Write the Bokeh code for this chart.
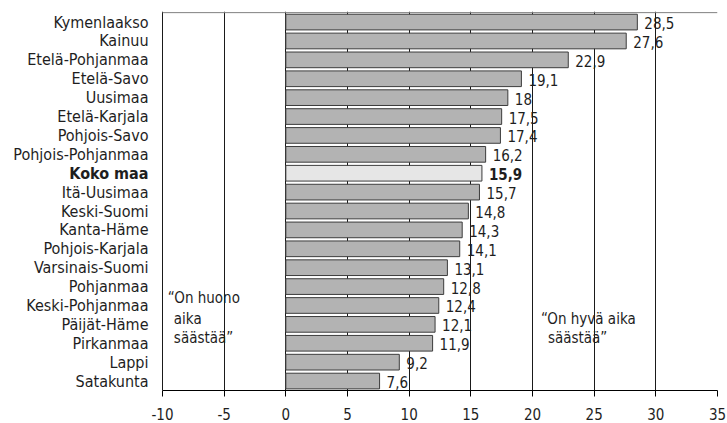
from bokeh.plotting import figure
from bokeh.models import ColumnDataSource, Range1d, FixedTicker, Label
from bokeh.embed import file_html
from bokeh.resources import INLINE
from bokeh.core.properties import value

regions = ["Kymenlaakso", "Kainuu", "Etelä-Pohjanmaa", "Etelä-Savo", "Uusimaa",
           "Etelä-Karjala", "Pohjois-Savo", "Pohjois-Pohjanmaa", "Koko maa",
           "Itä-Uusimaa", "Keski-Suomi", "Kanta-Häme", "Pohjois-Karjala",
           "Varsinais-Suomi", "Pohjanmaa", "Keski-Pohjanmaa", "Päijät-Häme",
           "Pirkanmaa", "Lappi", "Satakunta"]
values = [28.5, 27.6, 22.9, 19.1, 18, 17.5, 17.4, 16.2, 15.9, 15.7, 14.8, 14.3,
          14.1, 13.1, 12.8, 12.4, 12.1, 11.9, 9.2, 7.6]
highlight = "Koko maa"
x_ticks = [-10, -5, 0, 5, 10, 15, 20, 25, 30, 35]
x_tick_labels = ["-10", "-5", "0", "5", "10", "15", "20", "25", "30", "35"]
note_bad = ["\u201cOn huono", "aika", "säästää\u201d"]
note_good = ["\u201cOn hyvä aika", "säästää\u201d"]

FONT = "DejaVu Sans Condensed"
TXT = "#1e1e1e"

n = len(regions)
ypos = [n - 1 - i for i in range(n)]
labels = [f"{v:g}".replace(".", ",") for v in values]
colors = ["#e6e6e6" if r == highlight else "#b3b3b3" for r in regions]
styles = ["bold" if r == highlight else "normal" for r in regions]
xmin, xmax = x_ticks[0], x_ticks[-1]

src = ColumnDataSource(dict(y=ypos, v=values, lab=labels, name=regions,
                            color=colors, style=styles, x0=[xmin] * n))

# frame spans the label area too; the chart box runs from -10 to 35
W, H = 727, 423
left_px, right_px = 162, 717
scale = (right_px - left_px) / (xmax - xmin)
x_start = xmin - left_px / scale

p = figure(width=W, height=H, x_range=Range1d(x_start, xmax), y_range=Range1d(-0.5, n - 0.5 + 0.06),
           output_backend="svg", toolbar_location=None,
           min_border_left=0, min_border_right=W - right_px, min_border_top=11, min_border_bottom=33)
p.outline_line_color = None
p.background_fill_color = "white"
p.yaxis.visible = False

p.hbar(y="y", left=0, right="v", height=0.83, fill_color="color",
       line_color="#3c3c3c", line_width=1, source=src)
p.text(x="v", y="y", text="lab", x_offset=7, y_offset=1, text_baseline="middle",
       text_align="left", text_font=value(FONT), text_font_size="15px",
       text_font_style="style", text_color=TXT, source=src)
p.text(x="x0", y="y", text="name", x_offset=-14, y_offset=0, text_baseline="middle",
       text_align="right", text_font=value(FONT), text_font_size="16px",
       text_font_style="style", text_color=TXT, source=src)

# top border of the chart box
p.segment(x0=xmin, y0=n - 0.5, x1=xmax, y1=n - 0.5, line_color="#808080", line_width=1)

p.xaxis.ticker = FixedTicker(ticks=x_ticks)
p.xaxis.bounds = (xmin, xmax)
p.xaxis.major_label_overrides = {t: s for t, s in zip(x_ticks, x_tick_labels)}
p.xaxis.major_label_text_font = FONT
p.xaxis.major_label_text_font_size = "15px"
p.xaxis.major_label_text_color = TXT
p.xaxis.major_tick_in = 0
p.xaxis.major_tick_out = 6
p.xaxis.minor_tick_in = 0
p.xaxis.minor_tick_out = 0
p.xaxis.major_label_standoff = 11
p.xaxis.axis_line_color = "black"
p.xaxis.major_tick_line_color = "black"

p.xgrid.ticker = FixedTicker(ticks=x_ticks)
p.xgrid.grid_line_color = "#1a1a1a"
p.ygrid.grid_line_color = None

for txt, xx, yy in zip(note_bad, [-9.57, -9.08, -9.08], [4.37, 3.31, 2.30]):
    p.add_layout(Label(x=xx, y=yy, text=txt, text_align="left", text_baseline="middle",
                       text_font=FONT, text_font_size="15px", text_color=TXT))
for txt, xx, yy in zip(note_good, [20.68, 21.25], [3.31, 2.30]):
    p.add_layout(Label(x=xx, y=yy, text=txt, text_align="left", text_baseline="middle",
                       text_font=FONT, text_font_size="15px", text_color=TXT))

open("out.html", "w").write(file_html(p, INLINE))
